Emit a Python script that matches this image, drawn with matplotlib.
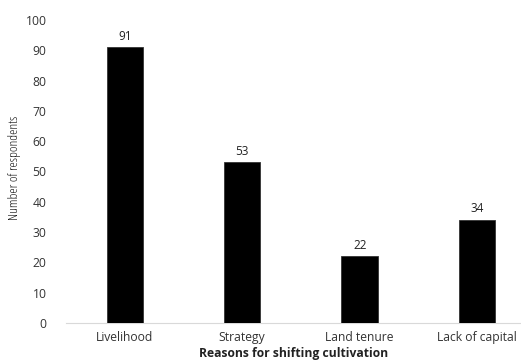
import matplotlib.pyplot as plt

# respondents per reason
reasons = ['Livelihood', 'Strategy', 'Land tenure', 'Lack of capital']
counts = [91, 53, 22, 34]
yticks = list(range(0, 101, 10))

plt.rcParams['font.family'] = ['Open Sans', 'DejaVu Sans']

fig = plt.figure(figsize=(5.21, 3.6), dpi=100)
ax = fig.add_axes([66 / 521, 1 - 323 / 360, (521 - 66) / 521, (323 - 20) / 360])

x = range(len(reasons))
bars = ax.bar(x, counts, width=0.31, color='black', edgecolor='#333333', linewidth=0.6, zorder=3)
for b, v in zip(bars, counts):
    ax.text(b.get_x() + b.get_width() / 2, v + 1.5, str(v), ha='center', va='bottom',
            fontsize=8.5, color='#222222')

ax.set_xlim(-0.5, 3.5 - 15 / 118)
ax.set_ylim(0, 100)
ax.set_yticks(yticks)
ax.set_xticks(list(x))
ax.set_xticklabels(reasons)
ax.tick_params(axis='both', length=0, labelsize=8.7, colors='#333333')
ax.tick_params(axis='y', pad=14)
ax.tick_params(axis='x', pad=6)

for s in ['top', 'right', 'left']:
    ax.spines[s].set_visible(False)
ax.spines['bottom'].set_color('#d9d9d9')
ax.spines['bottom'].set_linewidth(0.8)

ax.set_xlabel('Reasons for shifting cultivation', fontsize=8.7, fontweight='bold',
              color='#222222', labelpad=2)
fig.text(15 / 521, 1 - 168 / 360, 'Number of respondents', rotation=90, ha='center', va='center',
         fontsize=9.6, color='#111111', fontstretch='condensed')

plt.savefig('out.png', dpi=100)
